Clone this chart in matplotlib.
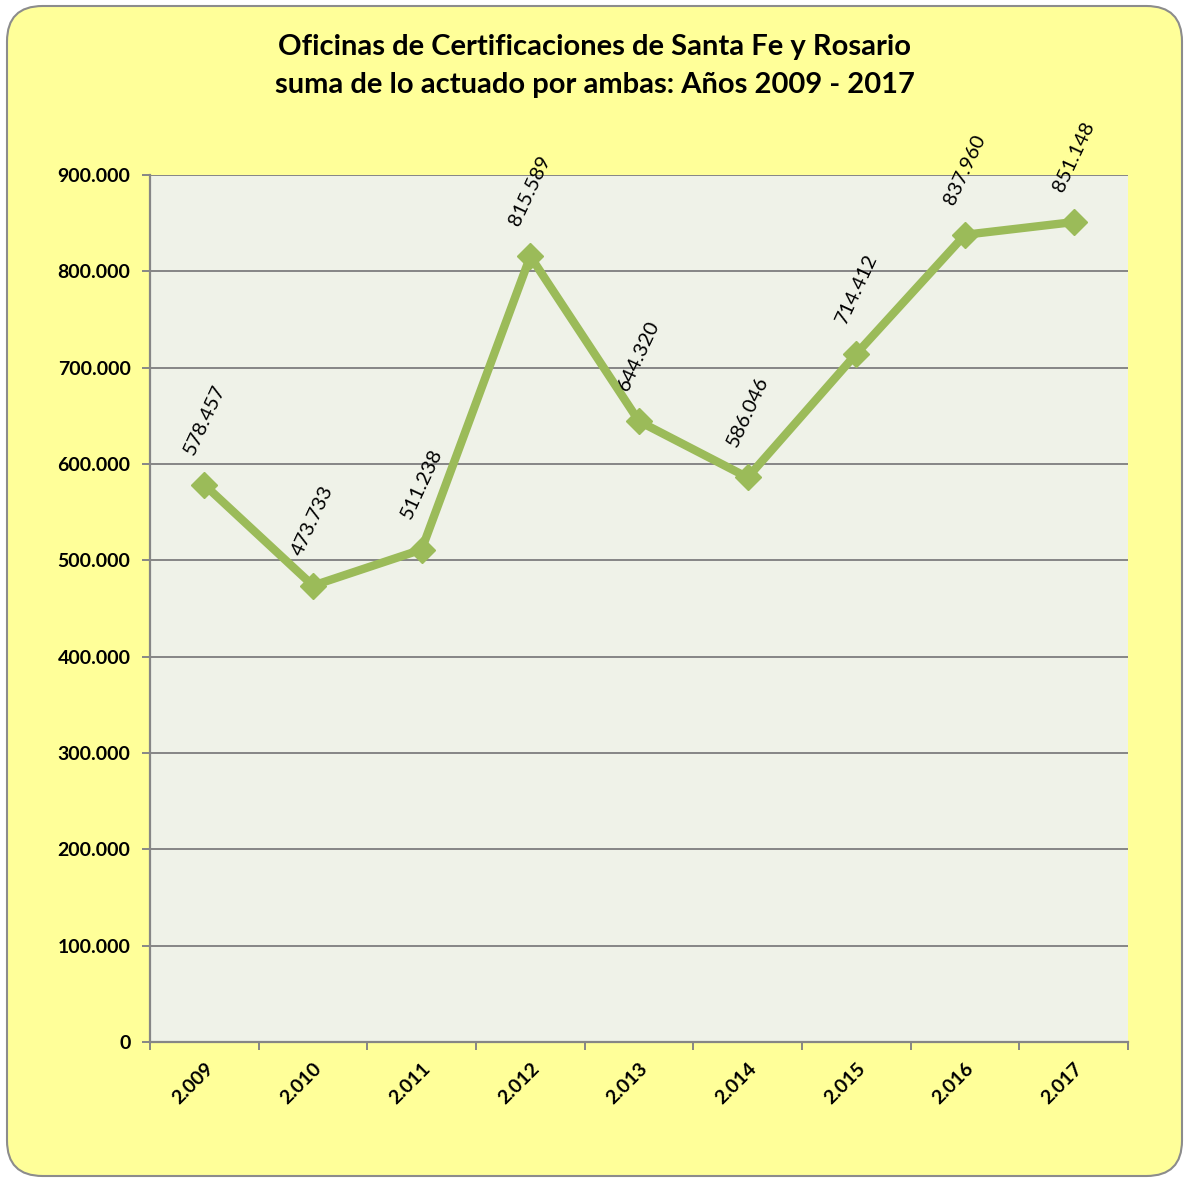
import matplotlib.pyplot as plt
from matplotlib.patches import FancyBboxPatch
from matplotlib.ticker import FuncFormatter, MultipleLocator
import numpy as np

years = ["2.009", "2.010", "2.011", "2.012", "2.013", "2.014", "2.015", "2.016", "2.017"]
totals = [578457, 473733, 511238, 815589, 644320, 586046, 714412, 837960, 851148]

line_color = "#9BBB59"
plt.rcParams["font.family"] = ["Lato", "DejaVu Sans"]


def miles(v, pos=None):
    # formato con punto de miles
    return f"{int(round(v)):,}".replace(",", ".")


fig = plt.figure(figsize=(11.85, 11.8), dpi=100)
fig.patch.set_facecolor("white")

frame = FancyBboxPatch((7 / 1185, 4 / 1180), 1175 / 1185, 1170 / 1180,
                       boxstyle="round,pad=0,rounding_size=0.03",
                       transform=fig.transFigure, facecolor="#FFFF99",
                       edgecolor="#8C8C8C", linewidth=1.5, zorder=-10)
fig.patches.append(frame)

ax = fig.add_axes([150 / 1185, 1 - 1042 / 1180, 978 / 1185, 867 / 1180])
ax.set_zorder(1)
ax.set_facecolor("#EFF2E8")

x = np.arange(len(years))
ax.plot(x, totals, color=line_color, linewidth=6, marker="D", markersize=13,
        markerfacecolor=line_color, markeredgecolor=line_color, zorder=3)

for xi, v in zip(x, totals):
    ax.annotate(miles(v), (xi, v), xytext=(0, 20), textcoords="offset points",
                rotation=65, ha="center", va="bottom", fontsize=14.5,
                color="black", annotation_clip=False)

ax.set_xlim(-0.5, len(years) - 0.5)
ax.set_ylim(0, 900000)
ax.yaxis.set_major_locator(MultipleLocator(100000))
ax.yaxis.set_major_formatter(FuncFormatter(miles))
ax.grid(axis="y", color="#868686", linewidth=1.4)
ax.set_axisbelow(True)

ax.set_xticks(x)
ax.set_xticklabels(years, rotation=45, ha="right", rotation_mode="anchor")
ax.set_xticks(np.arange(len(years) + 1) - 0.5, minor=True)
ax.tick_params(axis="x", which="major", length=0, pad=13)
ax.tick_params(axis="x", which="minor", length=6, width=1.4, color="#868686")
ax.tick_params(axis="y", length=6, width=1.4, color="#868686", pad=8)
for lab in ax.get_xticklabels() + ax.get_yticklabels():
    lab.set_fontweight("bold")
    lab.set_fontsize(14)

for s in ["top", "right"]:
    ax.spines[s].set_visible(False)
for s in ["left", "bottom"]:
    ax.spines[s].set_color("#868686")
    ax.spines[s].set_linewidth(1.6)

fig.text(0.502, 1 - 47 / 1180, "Oficinas de Certificaciones de Santa Fe y Rosario",
         ha="center", va="center", fontsize=21, fontweight="bold")
fig.text(0.502, 1 - 85 / 1180, "suma de lo actuado por ambas: Años 2009 - 2017",
         ha="center", va="center", fontsize=21, fontweight="bold")

fig.savefig("out.png", dpi=100)
